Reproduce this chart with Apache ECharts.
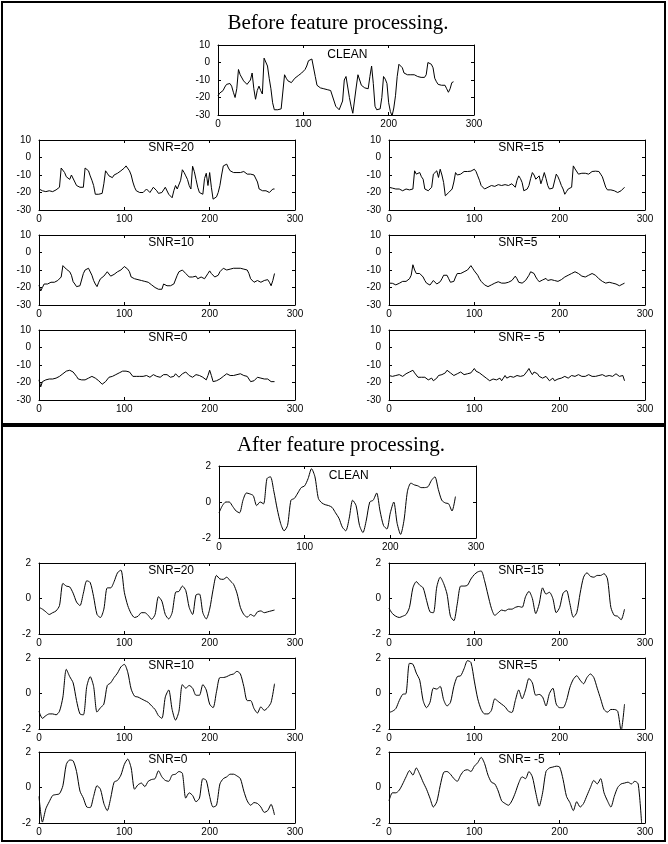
<!DOCTYPE html>
<html><head><meta charset="utf-8">
<script src="https://cdn.jsdelivr.net/npm/echarts@6/dist/echarts.min.js"></script>
<style>html,body{margin:0;padding:0;background:#fff}#c{width:668px;height:844px}</style>
</head><body><div id="c"></div>
<script>
// frame positions of the samples
const xsBefore = [0,2,4,6,8,10,12,14,16,18,20,22,24,26,28,30,32,34,36,38,40,42,44,46,48,50,52,54,56,58,60,62,64,66,68,70,72,74,76,78,80,82,84,86,88,90,92,94,96,98,100,102,104,106,108,110,112,114,116,118,120,122,124,126,128,130,132,134,136,138,140,142,144,146,148,150,152,154,156,158,160,162,164,166,168,170,172,174,176,178,180,182,184,186,188,190,192,194,196,198,200,202,204,206,208,210,212,214,216,218,220,222,224,226,228,230,232,234,236,238,240,242,244,246,248,250,252,254,256,258,260,262,264,266,268,270,272,274,276];
const xsAfter = [0,4,8,12,16,20,24,28,32,36,40,44,48,52,56,60,64,68,72,76,80,84,88,92,96,100,104,108,112,116,120,124,128,132,136,140,144,148,152,156,160,164,168,172,176,180,184,188,192,196,200,204,208,212,216,220,224,228,232,236,240,244,248,252,256,260,264,268,272,276,280,284,288,292,296];
const xTicks = [0,100,200,300];
const beforeYTicks = [-30,-20,-10,0,10];
const afterYTicks = [-2,0,2];
const titles = ['Before feature processing.','After feature processing.'];
const names = ['CLEAN','SNR=20','SNR=15','SNR=10','SNR=5','SNR=0','SNR= -5'];

// Before feature processing (one row = 10 samples)
const beforeClean = [
 -19,-17.5,-16.5,-16,-14,-12.5,-13,-12,-13.5,-17,
 -20,-15,-4,-7,-8,-10.5,-11,-12.5,-12.5,-10,
 -6,-15,-21,-16,-13.5,-16,-18,2.5,1.5,-2,
 -9,-15,-23,-27,-28,-27,-27.5,-26.5,-27,-7,
 -9,-10.5,-11.5,-11.5,-10.5,-9,-8.5,-7.5,-7,-6,
 -5,-4,-2,1,2,2,1.5,-8,-13,-14,
 -14.5,-14,-15,-14.5,-15.5,-15.5,-16,-17,-22,-25,
 -26,-27,-28,-22,-10,-8,-9,-20,-25,-29,
 -28,-14,-7,-6,-13,-13.5,-14.5,-14,-15,-8,
 -2,-12,-25,-27,-27,-26.5,-20,-8,-9.5,-12,
 -23,-28,-30.5,-26,-19,-8,-1,-2,-3,-6,
 -7,-7,-7.5,-7,-7.5,-7,-7.5,-8,-8,-8.5,
 -8,-8.5,-7,0,1,-1,-3,-9,-11,-12.5,
 -12,-13,-12.5,-13,-15,-17,-15,-11.5,-11];
const beforeSnr20 = [
 -18,-17.5,-19,-18,-19.5,-20,-19,-20,-19.5,-19,
 -18.5,-17.5,-17,-6,-7,-8.6,-11,-11.5,-12.5,-10,
 -9,-14,-16,-16.5,-17,-16.5,-17,-6,-6.5,-7.6,
 -10.5,-13,-16,-21,-20.5,-21,-20,-20.5,-15,-7.6,
 -9,-10.5,-11,-11.5,-10,-9.5,-9,-8.5,-7.6,-7,
 -6,-4.8,-5.5,-7.6,-10,-14,-17,-19,-19.5,-20,
 -19.5,-20,-19,-18,-19,-20,-18.5,-17,-18,-19,
 -20.5,-21,-20,-19,-17,-16,-21,-22,-23,-19,
 -16,-18,-19,-13,-7,-8.5,-10.5,-12.5,-16,-18,
 -5,-8,-12.5,-17,-20,-20.5,-21,-12,-9,-16,
 -8.6,-17,-23.8,-23,-22.5,-20,-16,-10,-4.8,-4.5,
 -3.8,-6,-7.6,-8,-8.6,-8.2,-8.6,-8.4,-8.6,-7.6,
 -8,-8.5,-9.5,-9,-9.5,-9,-10,-10.5,-14,-18,
 -18.5,-19,-20,-19,-19,-20,-19.5,-18,-18];
const beforeSnr15 = [
 -17,-16.5,-17.5,-18,-18,-18.5,-18,-18.5,-19,-18.5,
 -18,-19,-18.5,-19,-18,-7.6,-9.5,-9,-8.6,-11,
 -12.4,-18,-18.5,-19,-18,-17,-9.5,-8.5,-7.6,-11.4,
 -6.7,-10,-14.3,-21.9,-21,-20,-19.5,-18,-14,-8.6,
 -10,-10.5,-9.5,-8.6,-8,-7.6,-8,-7.6,-7.8,-7.6,
 -6.7,-8,-10.5,-13,-16,-17,-18,-17.5,-17,-16.5,
 -16,-17,-16.5,-17,-15.5,-15,-16,-17,-15.5,-15,
 -16,-15.5,-15,-16,-17,-13,-10.5,-12,-14.3,-19,
 -20,-18,-16,-12,-8.6,-10,-12.4,-11.5,-10.5,-15,
 -12,-8.6,-12,-16,-18,-18,-17.5,-17,-9.5,-11,
 -13.3,-16,-18,-21,-19.5,-18,-17.5,-17,-4.8,-6.5,
 -7.6,-9.5,-8.6,-9,-8.6,-9,-9.2,-9.5,-8.6,-8,
 -7.6,-7.8,-7.6,-8,-9.5,-11,-14,-17,-18.5,-19,
 -18.5,-19,-19,-19.5,-20,-19,-19,-20,-17];
const beforeSnr10 = [
 -18.6,-22,-20,-18,-17.5,-18,-17.5,-17,-17.5,-17,
 -16.5,-16,-15,-14,-7.5,-8,-9.5,-9,-11,-13,
 -16.7,-18,-19.5,-19,-19,-18,-12,-10,-9.5,-9,
 -10,-13,-16,-18,-19.5,-17,-15,-14,-13.5,-12.5,
 -11,-12,-13.5,-12.5,-12.5,-12,-11,-10.5,-10,-9,
 -8,-8.5,-9.5,-11,-14,-15,-15,-14.5,-15.5,-16,
 -16,-16.5,-16.5,-17,-17,-18,-18.5,-19,-20,-21,
 -21,-20,-21,-18,-17,-19,-18,-19,-20,-18,
 -17,-13,-11,-10,-10,-11,-12,-13,-14,-13,
 -14,-13,-13.5,-15,-15.5,-14,-14,-15,-14.5,-12,
 -10.5,-12,-13,-14,-15,-13,-11,-10,-9,-9.5,
 -10,-9,-9.5,-9,-9,-8.5,-9,-9.5,-9,-9,
 -9.5,-9.5,-10,-12,-15,-16,-17,-16.5,-16,-17,
 -17,-16.5,-16,-15.5,-15.5,-17,-19,-16,-12];
const beforeSnr5 = [
 -17.5,-18,-17.6,-18.5,-18.5,-17.5,-17.6,-17,-16.5,-17,
 -16.5,-15.5,-15,-13,-7,-10,-12,-11.5,-12,-13,
 -14,-16,-17.5,-18,-18.6,-17.5,-16,-17,-18,-17.5,
 -16.7,-15,-13,-12.5,-13,-15,-17,-16,-16.5,-14,
 -12,-12.5,-12,-11.5,-11,-10.5,-10,-9,-7.5,-9,
 -10.5,-11.5,-13,-15,-16.5,-17.5,-18.5,-19,-19.5,-19,
 -18.5,-18,-17.5,-17,-16.7,-17,-17.5,-18,-17.5,-17,
 -17,-16.5,-16,-15,-13.5,-15,-17,-17.5,-17.5,-17,
 -16,-15,-13,-11,-10,-12,-14,-15.5,-16.7,-16,
 -15.7,-15,-14.8,-16,-16.5,-15.5,-15,-16,-15.7,-16.5,
 -16,-15.5,-15,-14,-13.5,-13,-12.5,-12,-11.5,-11,
 -11.5,-12,-13,-13.5,-13.5,-14,-14,-13,-12.5,-12,
 -12,-13,-14,-15,-15.5,-16.5,-17,-17.5,-17.5,-17,
 -16.5,-17.5,-18.5,-18,-18,-19,-20,-18,-17.5];
const beforeSnr0 = [
 -18.5,-22.5,-19.5,-18.5,-18.5,-18,-18,-17.5,-18,-17.5,
 -17.5,-17,-16.5,-16,-15,-14,-13.5,-14,-13,-13.5,
 -14,-15,-16.5,-18,-19,-18.5,-19.5,-18.5,-18,-17.5,
 -17,-16.5,-16.5,-17.5,-18.5,-19,-19.5,-21,-22,-19.5,
 -18.5,-17,-16,-16.5,-16.5,-15.5,-15,-14.5,-14,-13.5,
 -12.5,-13.5,-13,-14,-15,-16.5,-17,-16.5,-16,-16.5,
 -16,-16.5,-17,-16,-16.5,-17,-16,-15.5,-15.5,-16.5,
 -16,-17,-16.5,-15.5,-14.5,-15.5,-16,-17,-17.5,-16.5,
 -15,-16,-17,-16,-15,-14,-14,-15,-16,-16.5,
 -17,-16,-15.5,-16,-16,-16.5,-17,-18,-18.5,-16,
 -13,-16,-19.5,-19,-19,-18.5,-18,-17,-16.5,-15.5,
 -15,-15.5,-16,-16.5,-16,-15.5,-15.5,-15,-15,-15.5,
 -16,-15.5,-16.5,-18,-19.5,-19,-19,-18,-17,-17.5,
 -17.5,-18.5,-18,-17.5,-18,-19,-19.5,-18.5,-19.5];
const beforeSnrM5 = [
 -16,-17,-16.5,-15.5,-16,-16.5,-15.5,-16,-16.5,-15.5,
 -15,-14.5,-14,-13,-13,-14.5,-15.5,-17,-18,-17,
 -16.5,-17,-17.5,-18.5,-18.5,-17.5,-19,-18,-17.5,-16,
 -15,-15.5,-16,-14.5,-13,-14,-14.5,-15.5,-16,-15.5,
 -15,-14.5,-14,-15,-15.5,-14.5,-15,-14,-14.5,-13.5,
 -12,-13.5,-14,-14.5,-15,-16,-16.5,-17.5,-18,-19,
 -19,-18,-17.5,-18.5,-18.5,-17.5,-19,-17.5,-16,-17.5,
 -18,-16.5,-15.5,-17,-17.5,-16,-15,-16.5,-17,-16,
 -15.5,-13.5,-12,-14,-15.5,-14,-13,-15,-16.5,-17.5,
 -17.5,-16.5,-16.5,-17.5,-19,-18,-17.5,-19,-19,-18,
 -18.5,-17.5,-17,-16.5,-16.5,-17.5,-17,-16,-15.5,-16.5,
 -16.5,-15.5,-15.5,-16.5,-17.5,-16.5,-16.5,-15.5,-15.5,-16.5,
 -16,-16.5,-17,-16,-16,-15.5,-15.5,-16.5,-17,-16,
 -15.5,-16.5,-16,-15,-15.5,-16.5,-17.5,-16,-19];

// After feature processing
const afterClean = [-0.6,-0.2,0,0,-0.25,-0.5,-0.6,0.1,0.5,0.45,0.35,-0.2,0,-0.1,1.3,1.4,0.6,-0.4,-1.2,-1.6,-1.3,0.1,0.2,0.5,0.8,0.9,1.3,1.85,1.4,0.2,-0.05,-0.15,-0.2,-0.3,-0.6,-0.9,-1.4,-1.6,-0.9,0.1,-0.2,-1.3,-1.7,-1.0,0,0.1,0.5,-0.5,-1.3,-1.5,-0.6,0,-1.2,-1.8,-1.0,0.6,1.05,0.95,0.9,0.8,0.8,0.85,1.2,1.4,0.7,0.1,-0.05,-0.1,-0.5,0.3];
const afterSnr20 = [-0.5,-0.6,-0.75,-0.9,-0.8,-0.7,-0.4,0.85,0.7,0.65,0.3,-0.2,-0.4,0.3,1.0,0.9,0.1,-0.9,-1.07,-0.6,0.6,0.6,0.95,1.45,1.6,0.35,-0.4,-0.85,-1.07,-1.0,-0.8,-0.8,-0.95,-1.17,-0.9,0.1,-0.15,-0.9,-1.15,-0.8,0.35,0.4,0.7,0.45,-0.5,-0.9,0.2,0.25,-0.8,-1.15,-0.6,0.5,1.3,1.1,1.08,1.2,1.0,0.8,0.3,-0.5,-0.9,-1.05,-0.9,-1.0,-0.75,-0.7,-0.8,-0.75,-0.7,-0.65];
const afterSnr15 = [-0.55,-0.85,-1.0,-1.07,-1.0,-0.9,-0.5,0.6,0.95,0.75,0.6,-0.1,-0.75,-0.8,0.65,1.2,0.85,0.25,-1.0,-1.25,-0.3,0.7,0.7,0.75,1.1,1.35,1.5,1.55,1.0,0.2,-0.55,-0.95,-0.8,-0.65,-0.7,-0.6,-0.6,-0.5,-0.45,-0.5,0.1,0.4,0.0,-0.85,-0.3,0.6,0.25,0.35,0.0,-0.8,-0.5,0.3,0.45,-0.3,-1.05,-0.8,0.3,1.2,1.45,1.25,1.2,1.3,1.3,1.4,1.1,-0.5,-0.95,-1.0,-1.2,-0.6];
const afterSnr10 = [-1.0,-1.4,-1.25,-1.15,-1.15,-1.2,-1.0,-0.2,1.36,0.95,0.6,-0.4,-1.15,-1.2,0.4,0.95,0.4,-1.05,-0.8,-0.6,0.45,0.6,0.9,1.15,1.5,1.64,1.2,0.25,-0.15,-0.2,-0.3,-0.4,-0.5,-0.7,-0.9,-1.25,-1.4,-0.2,0.2,-0.9,-1.5,-1.0,0.5,0.3,0.45,0.3,-0.1,-0.1,0.5,0.2,-0.6,-0.8,0.1,0.9,0.9,0.95,1.05,1.1,1.25,1.1,0.4,-0.4,-0.4,-0.85,-1.1,-0.75,-0.95,-0.8,-0.5,0.55];
const afterSnr5 = [-1.07,-1.0,-0.85,-0.4,-0.05,0.0,1.7,1.65,1.15,0.75,-0.4,-0.8,-0.5,0.3,0.25,0.4,-0.35,-0.7,-0.5,0.4,0.95,1.0,1.4,1.85,1.75,0.7,-0.3,-0.9,-1.15,-1.15,-0.95,-0.3,-0.45,-0.6,-0.75,-1.0,-1.07,-0.4,0.2,-0.3,0.2,0.85,0.6,-0.1,-0.05,-0.2,-0.7,0.0,0.3,-0.6,-0.8,-0.8,-0.4,0.35,0.8,1.0,0.75,0.55,0.9,1.1,0.9,0.3,-0.3,-0.9,-1.05,-0.9,-0.9,-1.0,-2.1,-0.6];
const afterSnr0 = [-0.5,-1.95,-1.2,-0.8,-0.45,-0.4,-0.35,0.1,1.3,1.55,1.5,0.9,-0.2,-0.6,-1.1,-1.13,-0.5,0.1,-0.1,-0.9,-1.3,-0.6,0.3,0.4,0.7,1.3,1.6,1.1,-0.1,0.15,0.25,0.05,0.35,0.45,0.5,0.94,0.6,0.4,0.35,0.7,0.75,0.9,0.8,-0.6,-0.3,-0.45,-0.8,-0.6,0.5,0.4,-0.5,-1.1,-1.0,0.2,0.5,0.6,0.75,0.75,0.65,0.5,-0.2,-0.75,-1.0,-0.85,-0.9,-1.1,-1.4,-1.3,-0.95,-1.55];
const afterSnrM5 = [-0.75,-0.3,-0.3,-0.15,0.2,0.6,0.95,0.7,1.1,0.75,0.3,-0.1,-0.6,-1.1,-0.8,0.1,0.85,0.9,0.75,0.5,0.35,0.7,0.95,1.0,0.9,1.2,1.4,1.7,1.35,0.7,0.3,0.2,-0.2,-0.75,-0.9,-1.0,-0.75,-0.3,0.25,0.6,0.5,0.9,0.6,-0.3,-1.05,-0.3,0.9,1.1,1.15,1.2,1.15,0.45,-0.5,-0.85,-1.3,-0.8,-1.1,-0.9,-0.45,0.0,0.4,0.2,0.5,-0.3,-0.75,-1.1,-0.5,0.0,0.2,0.25,0.3,0.2,0.35,0.2,-2.0];

// layout (pixels) — kept apart from the data
const L = 39, R = 389, W = 256;
const plots = [
  {name:names[0], xs:xsBefore, vals:beforeClean, left:218, top:45, w:W, h:70, ticks:beforeYTicks, smooth:false, ty:10},
  {name:names[1], xs:xsBefore, vals:beforeSnr20, left:L, top:140, w:W, h:70, ticks:beforeYTicks, smooth:false, ty:8},
  {name:names[2], xs:xsBefore, vals:beforeSnr15, left:R, top:140, w:W, h:70, ticks:beforeYTicks, smooth:false, ty:8},
  {name:names[3], xs:xsBefore, vals:beforeSnr10, left:L, top:235, w:W, h:70, ticks:beforeYTicks, smooth:false, ty:8},
  {name:names[4], xs:xsBefore, vals:beforeSnr5, left:R, top:235, w:W, h:70, ticks:beforeYTicks, smooth:false, ty:8},
  {name:names[5], xs:xsBefore, vals:beforeSnr0, left:L, top:330, w:W, h:70, ticks:beforeYTicks, smooth:false, ty:8},
  {name:names[6], xs:xsBefore, vals:beforeSnrM5, left:R, top:330, w:W, h:70, ticks:beforeYTicks, smooth:false, ty:8},
  {name:names[0], xs:xsAfter, vals:afterClean, left:219, top:466, w:257, h:72, ticks:afterYTicks, smooth:0.25, ty:10},
  {name:names[1], xs:xsAfter, vals:afterSnr20, left:L, top:563, w:W, h:71, ticks:afterYTicks, smooth:0.25, ty:8},
  {name:names[2], xs:xsAfter, vals:afterSnr15, left:R, top:563, w:W, h:71, ticks:afterYTicks, smooth:0.25, ty:8},
  {name:names[3], xs:xsAfter, vals:afterSnr10, left:L, top:658, w:W, h:71, ticks:afterYTicks, smooth:0.25, ty:8},
  {name:names[4], xs:xsAfter, vals:afterSnr5, left:R, top:658, w:W, h:71, ticks:afterYTicks, smooth:0.25, ty:8},
  {name:names[5], xs:xsAfter, vals:afterSnr0, left:L, top:752, w:W, h:71, ticks:afterYTicks, smooth:0.25, ty:8},
  {name:names[6], xs:xsAfter, vals:afterSnrM5, left:R, top:752, w:W, h:71, ticks:afterYTicks, smooth:0.25, ty:8}
];

const FONT = '"Liberation Sans", Arial, Helvetica, sans-serif';
const SERIF = '"Liberation Serif", "Times New Roman", serif';
const grid = [], xAxis = [], yAxis = [], series = [], graphic = [];

plots.forEach((p, i) => {
  grid.push({left:p.left, top:p.top, width:p.w, height:p.h, containLabel:false});
  const line = {onZero:false, lineStyle:{color:'#000', width:1}};
  const tick = {show:true, inside:true, length:3, lineStyle:{color:'#000', width:1}};
  const xmin = xTicks[0], xmax = xTicks[xTicks.length-1], xint = xTicks[1]-xTicks[0];
  const ymin = p.ticks[0], ymax = p.ticks[p.ticks.length-1], yint = p.ticks[1]-p.ticks[0];
  xAxis.push({type:'value', gridIndex:i, min:xmin, max:xmax, interval:xint, position:'bottom',
    axisLine:line, axisTick:tick, splitLine:{show:false},
    axisLabel:{show:true, color:'#000', fontSize:10, fontFamily:FONT, margin:4, showMinLabel:true, showMaxLabel:true}});
  xAxis.push({type:'value', gridIndex:i, min:xmin, max:xmax, interval:xint, position:'top',
    axisLine:line, axisTick:tick, splitLine:{show:false}, axisLabel:{show:false}});
  yAxis.push({type:'value', gridIndex:i, min:ymin, max:ymax, interval:yint, position:'left',
    axisLine:line, axisTick:tick, splitLine:{show:false},
    axisLabel:{show:true, color:'#000', fontSize:10, fontFamily:FONT, margin:8, showMinLabel:true, showMaxLabel:true}});
  yAxis.push({type:'value', gridIndex:i, min:ymin, max:ymax, interval:yint, position:'right',
    axisLine:line, axisTick:tick, splitLine:{show:false}, axisLabel:{show:false}});
  const n = Math.min(p.xs.length, p.vals.length);
  const data = [];
  for (let k = 0; k < n; k++) data.push([p.xs[k], p.vals[k]]);
  series.push({type:'line', xAxisIndex:2*i, yAxisIndex:2*i, data,
    showSymbol:false, symbol:'none', smooth:p.smooth,
    lineStyle:{color:'#000', width:1}, animation:false, silent:true});
  graphic.push({type:'text', left:p.left + 0.427*p.w, top:p.top + p.ty - 6,
    style:{text:p.name, fill:'#000', font:'12px ' + FONT}, silent:true});
});

graphic.push({type:'rect', shape:{x:2, y:2, width:663, height:422}, style:{fill:'none', stroke:'#000', lineWidth:2}, silent:true});
graphic.push({type:'rect', shape:{x:2, y:426, width:663, height:415}, style:{fill:'none', stroke:'#000', lineWidth:2}, silent:true});
graphic.push({type:'text', x:338, y:23, style:{text:titles[0], fill:'#000', font:'21px ' + SERIF, textAlign:'center', textVerticalAlign:'middle', align:'center', verticalAlign:'middle'}, silent:true});
graphic.push({type:'text', x:341, y:445, style:{text:titles[1], fill:'#000', font:'21px ' + SERIF, textAlign:'center', textVerticalAlign:'middle', align:'center', verticalAlign:'middle'}, silent:true});

const chart = echarts.init(document.getElementById('c'), null, {renderer:'canvas', width:668, height:844});
chart.setOption({animation:false, backgroundColor:'#fff', grid, xAxis, yAxis, series, graphic});
</script>
</body></html>
